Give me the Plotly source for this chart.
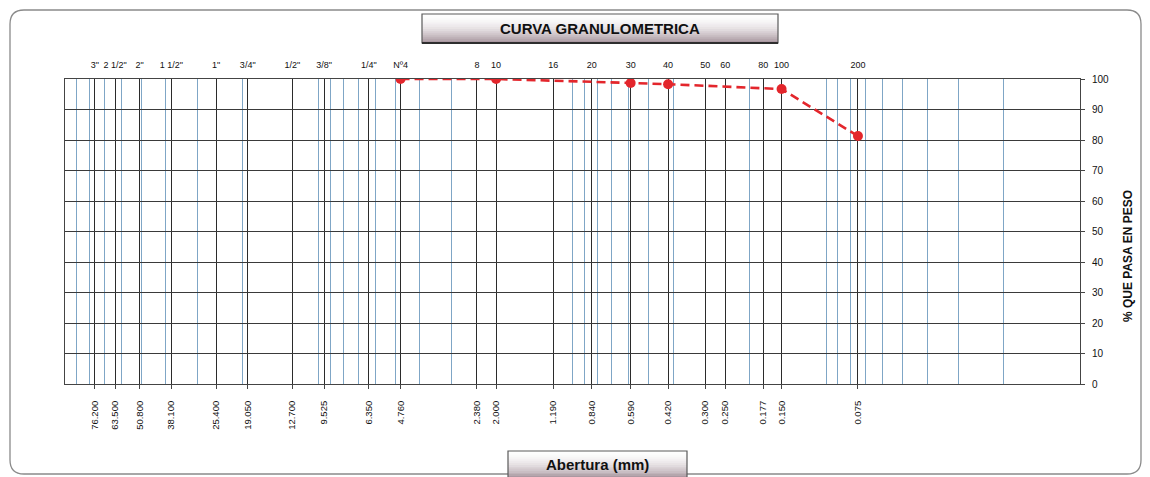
import plotly.graph_objects as go
import numpy as np

# ASTM sieve series: names and openings (mm)
sieve_names = ['3"', '2 1/2"', '2"', '1 1/2"', '1"', '3/4"', '1/2"', '3/8"', '1/4"', 'Nº4',
               '8', '10', '16', '20', '30', '40', '50', '60', '80', '100', '200']
sieve_mm = [76.2, 63.5, 50.8, 38.1, 25.4, 19.05, 12.7, 9.525, 6.35, 4.76,
            2.38, 2.0, 1.19, 0.84, 0.59, 0.42, 0.30, 0.25, 0.177, 0.150, 0.075]
mm_labels = ['76.200', '63.500', '50.800', '38.100', '25.400', '19.050', '12.700', '9.525',
             '6.350', '4.760', '2.380', '2.000', '1.190', '0.840', '0.590', '0.420',
             '0.300', '0.250', '0.177', '0.150', '0.075']

# Test results: sieves used and percent passing
test_mm = [4.76, 2.0, 0.59, 0.42, 0.150, 0.075]
pct_passing = [100, 100, 98.7, 98.3, 96.7, 81.3]

pct_ticks = list(range(0, 101, 10))

# log-decade minor grid (1..9 x 10^n) across the axis range
log_minor = [k * 10.0 ** n for n in range(-2, 2) for k in range(1, 10)]

W, H = 1150, 477
L, R, T, B = 65, 1080, 79, 384   # plot box in pixels


def px(x):
    return (x - L) / (R - L)


def py(y):
    return (B - y) / (B - T)


FONT = "Liberation Sans, Arial, sans-serif"
RED = "#e3262c"
INK = "#111111"

fig = go.Figure()

fig.add_trace(go.Scatter(
    x=test_mm, y=pct_passing, mode="lines+markers",
    line=dict(color=RED, width=2.6, dash="9px,5px"),
    marker=dict(color=RED, size=10, line=dict(width=0)),
    showlegend=False, hoverinfo="x+y",
))
# carrier trace for the top (sieve name) axis
fig.add_trace(go.Scatter(
    x=sieve_mm, y=[np.nan] * len(sieve_mm), xaxis="x2", mode="lines",
    showlegend=False, hoverinfo="skip",
))

shapes = []

# outer rounded frame
r = 14
x0, x1, y0, y1 = 10, 1141, 10, 474
rx, ry = r / (R - L), r / (B - T)
X0, X1, Y0, Y1 = px(x0), px(x1), py(y0), py(y1)
path = (f"M {X0 + rx} {Y0} L {X1 - rx} {Y0} Q {X1} {Y0} {X1} {Y0 - ry} "
        f"L {X1} {Y1 + ry} Q {X1} {Y1} {X1 - rx} {Y1} "
        f"L {X0 + rx} {Y1} Q {X0} {Y1} {X0} {Y1 + ry} "
        f"L {X0} {Y0 - ry} Q {X0} {Y0} {X0 + rx} {Y0} Z")
shapes.append(dict(type="path", xref="paper", yref="paper", path=path,
                   line=dict(color="#8a8a8a", width=1.3), layer="below"))


def label_box(bx0, by0, bx1, by1, n=14):
    """Bevelled caption box with a white-to-mauve vertical shade."""
    top = np.array([255, 255, 255])
    bot = np.array([165, 146, 155])
    h = (by1 - by0) / n
    for i in range(n):
        t = ((i + 0.5) / n) ** 1.8
        c = (top + (bot - top) * t).astype(int)
        shapes.append(dict(type="rect", xref="paper", yref="paper",
                           x0=px(bx0), x1=px(bx1),
                           y0=py(by0 + i * h), y1=py(by0 + (i + 1) * h + 0.3),
                           fillcolor=f"rgb({c[0]},{c[1]},{c[2]})",
                           line=dict(width=0), layer="above"))
    shapes.append(dict(type="rect", xref="paper", yref="paper",
                       x0=px(bx0), x1=px(bx1), y0=py(by0), y1=py(by1),
                       line=dict(color="#5a5a5a", width=1.2), layer="above"))
    shapes.append(dict(type="line", xref="paper", yref="paper",
                       x0=px(bx0), x1=px(bx1), y0=py(by1), y1=py(by1),
                       line=dict(color="#2e2e2e", width=2), layer="above"))


label_box(422, 14, 778, 43)
label_box(508, 451, 687, 478)

annotations = [
    dict(text="<b>CURVA GRANULOMETRICA</b>", xref="paper", yref="paper",
         x=px(600), y=py(28.5), xanchor="center", yanchor="middle", showarrow=False,
         font=dict(family=FONT, size=15, color=INK)),
    dict(text="<b>Abertura (mm)</b>", xref="paper", yref="paper",
         x=px(597), y=py(464), xanchor="center", yanchor="middle", showarrow=False,
         font=dict(family=FONT, size=15, color=INK)),
    dict(text="<b>% QUE PASA EN PESO</b>", xref="paper", yref="paper",
         x=px(1128), y=py(256), xanchor="center", yanchor="middle",
         showarrow=False, textangle=-90,
         font=dict(family=FONT, size=12, color=INK)),
]

fig.update_layout(
    width=W, height=H,
    margin=dict(l=L, r=W - R, t=T, b=H - B, pad=0),
    paper_bgcolor="white", plot_bgcolor="white",
    showlegend=False,
    shapes=shapes, annotations=annotations,
    xaxis=dict(
        type="log", range=[2, -2], autorange=False,
        tickmode="array", tickvals=sieve_mm, ticktext=mm_labels,
        tickangle=-90, ticks="outside", ticklen=4, tickcolor="#444",
        ticklabelstandoff=8,
        tickfont=dict(family=FONT, size=9.5, color=INK),
        showgrid=True, gridcolor="#2b2b2b", gridwidth=1,
        minor=dict(tickmode="array", tickvals=log_minor, showgrid=True,
                   gridcolor="#7fa6c6", gridwidth=1, ticks=""),
        showline=True, linecolor="#444", linewidth=1, mirror=True,
        zeroline=False,
    ),
    xaxis2=dict(
        type="log", range=[2, -2], autorange=False, overlaying="x", side="top",
        tickmode="array", tickvals=sieve_mm, ticktext=sieve_names,
        ticks="", ticklabelstandoff=8,
        tickfont=dict(family=FONT, size=9, color=INK),
        showgrid=False, showline=False, zeroline=False,
    ),
    yaxis=dict(
        range=[0, 100], autorange=False, side="right",
        tickmode="array", tickvals=pct_ticks,
        ticks="outside", ticklen=4, tickcolor="#444", ticklabelstandoff=5,
        tickfont=dict(family=FONT, size=10, color=INK),
        showgrid=True, gridcolor="#3a3a3a", gridwidth=1,
        showline=True, linecolor="#444", linewidth=1, mirror=True,
        zeroline=False,
    ),
)

fig.write_html("out.html")
